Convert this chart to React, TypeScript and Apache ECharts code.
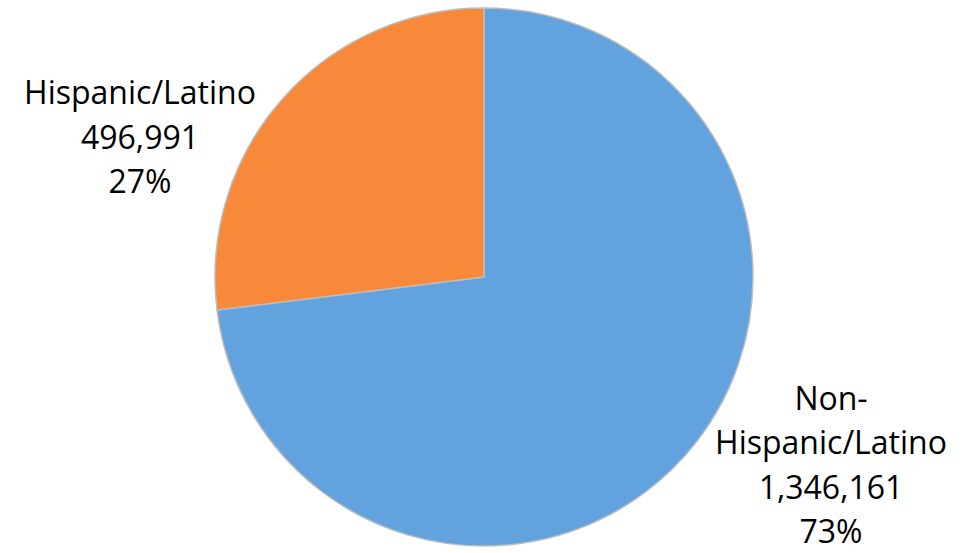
import React, { useEffect, useRef } from "react";
import * as echarts from "echarts";

const categories = ["Non-Hispanic/Latino", "Hispanic/Latino"];
const values = [1346161, 496991];
const colors = ["#62a3df", "#f8893a"];

export default function App() {
  const ref = useRef<HTMLDivElement>(null);
  useEffect(() => {
    if (!ref.current) return;
    const chart = echarts.init(ref.current, undefined, { renderer: "svg" });
    const labelPos = [
      { x: 831, y: 464 },
      { x: 140, y: 136 },
    ];
    chart.setOption({
      animation: false,
      backgroundColor: "#ffffff",
      series: [
        {
          type: "pie",
          center: [484, 277],
          radius: [0, 269],
          startAngle: 90,
          clockwise: true,
          data: categories.map((c, i) => ({
            name: c,
            value: values[i],
            itemStyle: { color: colors[i] },
          })),
          itemStyle: {
            borderColor: "#bdbdbd",
            borderWidth: 1.5,
          },
          label: {
            show: true,
            position: "inside",
            overflow: "none",
            formatter: (p: any) =>
              p.name.replace("Non-", "Non-\n") +
              "\n" +
              Number(p.value).toLocaleString("en-US") +
              "\n" +
              Math.round(p.percent) +
              "%",
            fontFamily: "'Open Sans', sans-serif",
            fontSize: 32,
            lineHeight: 44.5,
            color: "#000000",
            align: "center",
          },
          labelLine: { show: false },
          labelLayout: (params: any) => ({
            x: labelPos[params.dataIndex].x,
            y: labelPos[params.dataIndex].y,
            align: "center",
            verticalAlign: "middle",
          }),
          emphasis: { disabled: true },
        },
      ],
    });
    return () => chart.dispose();
  }, []);
  return (
    <div
      ref={ref}
      style={{ position: "fixed", left: 0, top: 0, width: 976, height: 553 }}
    />
  );
}
